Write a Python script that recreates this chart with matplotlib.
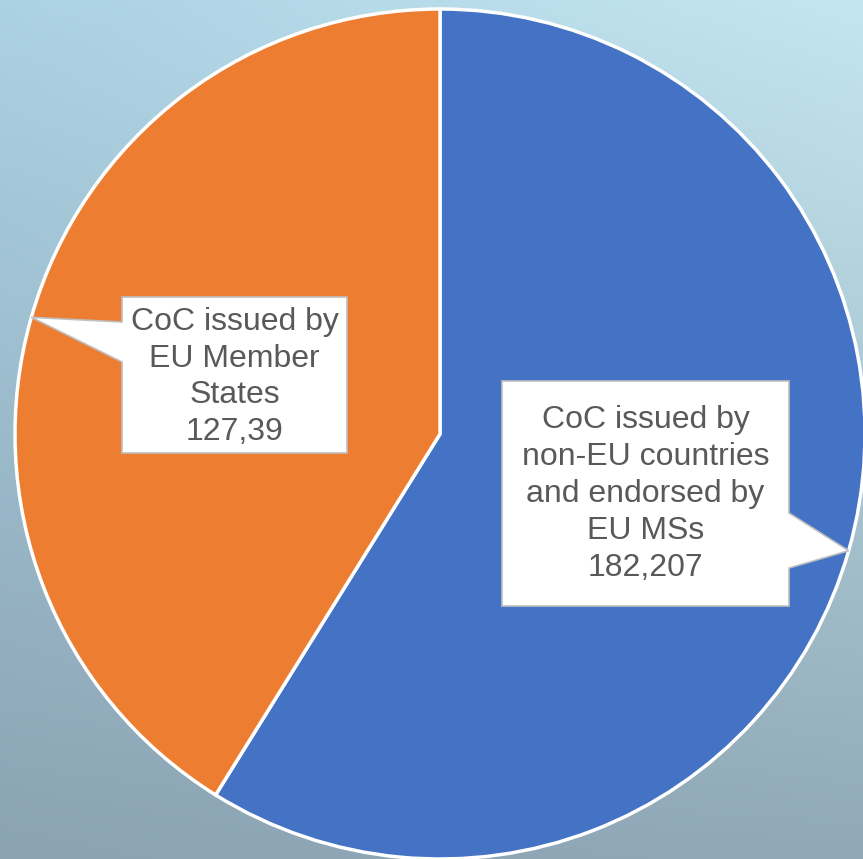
import numpy as np
import matplotlib
matplotlib.use("Agg")
import matplotlib.pyplot as plt
from matplotlib.patches import Polygon

# ---- data ----
categories = ["CoC issued by\nnon-EU countries\nand endorsed by\nEU MSs",
              "CoC issued by\nEU Member\nStates"]
values = [182207, 127390]
value_labels = ["182,207", "127,39"]
colors = ["#4472C4", "#ED7D31"]

W, H = 863, 859
fig = plt.figure(figsize=(W / 100, H / 100), dpi=100)
ax = fig.add_axes([0, 0, 1, 1])
ax.set_xlim(0, W)
ax.set_ylim(0, H)
ax.axis("off")

# background gradient (bilinear)
tl = np.array([0xab, 0xd2, 0xe3]) / 255
tr = np.array([0xc4, 0xe6, 0xf0]) / 255
bl = np.array([0x8b, 0xa3, 0xb3]) / 255
br = np.array([0x91, 0xa9, 0xb7]) / 255
u = np.linspace(0, 1, 200)[None, :, None]
v = np.linspace(0, 1, 200)[:, None, None]
grad = (1 - v) * ((1 - u) * tl + u * tr) + v * ((1 - u) * bl + u * br)
ax.imshow(grad, extent=(0, W, 0, H), origin="upper", aspect="auto", zorder=0)

cx, cy, R = 440, H - 434, 425
wedges, _ = ax.pie(values, colors=colors, startangle=90, counterclock=False,
                   center=(cx, cy), radius=R, frame=True,
                   wedgeprops=dict(edgecolor="white", linewidth=2.5))
for w in wedges:
    w.set_zorder(2)
ax.set_xlim(0, W)
ax.set_ylim(0, H)
ax.set_aspect("equal")
ax.axis("off")

# callout boxes: (left, top, right, bottom) in pixels, pointer side, base y range
boxes = [
    dict(box=(502, 381, 789, 606), side="right", base=(513, 568), text_y=494),
    dict(box=(122, 297, 347, 453), side="left", base=(322, 362), text_y=377),
]

total = sum(values)
start = 90.0
for i, (cat, val, vl) in enumerate(zip(categories, values, value_labels)):
    span = 360.0 * val / total
    mid = np.deg2rad(start - span / 2)
    start -= span
    tipx = cx + R * np.cos(mid)
    tipy = cy + R * np.sin(mid)
    b = boxes[i]
    l, t, r, btm = b["box"]
    y0, y1 = b["base"]
    f = lambda y: H - y
    if b["side"] == "right":
        pts = [(l, f(t)), (r, f(t)), (r, f(y0)), (tipx, tipy), (r, f(y1)),
               (r, f(btm)), (l, f(btm))]
    else:
        pts = [(l, f(t)), (r, f(t)), (r, f(btm)), (l, f(btm)), (l, f(y1)),
               (tipx, tipy), (l, f(y0))]
    poly = Polygon(pts, closed=True, facecolor="white", edgecolor="#bfbfbf",
                   linewidth=1.2, zorder=3, joinstyle="miter")
    ax.add_patch(poly)
    ax.text((l + r) / 2, f(b["text_y"]), cat + "\n" + vl, ha="center", va="center",
            fontsize=23, color="#595959", family="Liberation Sans",
            linespacing=1.3, zorder=4)

fig.savefig("out.png", dpi=100)
